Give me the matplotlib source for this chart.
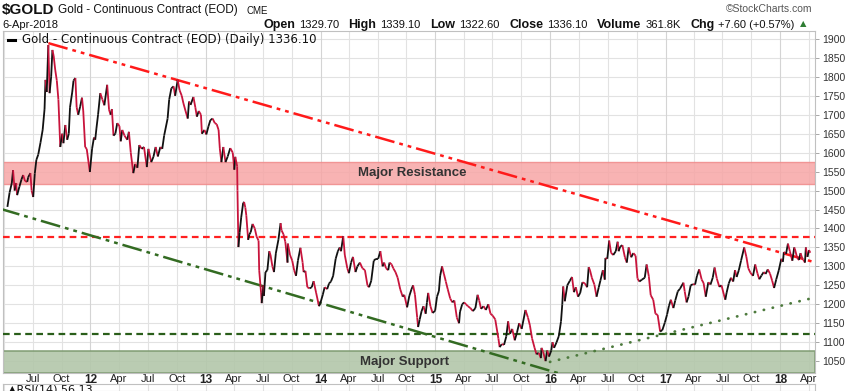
import numpy as np
import pandas as pd
import matplotlib
matplotlib.use("Agg")
import matplotlib.pyplot as plt
import matplotlib.dates as mdates
from matplotlib.collections import LineCollection

W, H = 847, 391

# daily close (approx.)
price_points = """
2011-04-12 1457,2011-04-19 1495,2011-04-26 1520,2011-04-30 1554,2011-05-05 1500,2011-05-10 1520,
2011-05-13 1488,2011-05-20 1510,2011-05-27 1530,2011-06-01 1541,2011-06-07 1525,2011-06-14 1523,
2011-06-17 1535,2011-06-24 1546,2011-06-28 1500,2011-07-03 1483,2011-07-08 1545,2011-07-13 1581,
2011-07-19 1595,2011-07-26 1626,2011-08-02 1660,2011-08-08 1715,2011-08-11 1792,2011-08-15 1760,
2011-08-20 1884,2011-08-24 1757,2011-08-29 1800,2011-09-02 1871,2011-09-06 1855,2011-09-11 1818,
2011-09-16 1790,2011-09-21 1740,2011-09-27 1615,2011-10-03 1650,2011-10-07 1625,2011-10-13 1673,
2011-10-19 1634,2011-10-24 1650,2011-10-28 1720,2011-11-04 1760,2011-11-08 1790,2011-11-14 1797,
2011-11-18 1720,2011-11-23 1700,2011-11-29 1721,2011-12-05 1745,2011-12-09 1710,2011-12-15 1615,
2011-12-20 1610,2011-12-30 1549,2012-01-06 1610,2012-01-12 1640,2012-01-16 1634,2012-01-20 1665,
2012-01-25 1700,2012-02-01 1757,2012-02-08 1740,2012-02-14 1725,2012-02-23 1779,2012-02-29 1713,
2012-03-05 1700,2012-03-09 1715,2012-03-14 1645,2012-03-20 1650,2012-03-26 1678,2012-04-02 1670,
2012-04-06 1630,2012-04-11 1660,2012-04-18 1645,2012-04-27 1634,2012-05-02 1655,2012-05-08 1600,
2012-05-16 1546,2012-05-22 1570,2012-05-29 1560,2012-06-04 1620,2012-06-12 1610,2012-06-19 1615,
2012-06-28 1562,2012-07-03 1610,2012-07-12 1575,2012-07-19 1589,2012-07-26 1615,2012-08-02 1590,
2012-08-10 1615,2012-08-16 1610,2012-08-22 1645,2012-09-02 1690,2012-09-07 1740,2012-09-14 1770,
2012-09-21 1775,2012-09-26 1750,2012-10-04 1792,2012-10-10 1765,2012-10-17 1750,2012-10-22 1731,
2012-10-29 1710,2012-11-05 1690,2012-11-09 1735,2012-11-14 1726,2012-11-23 1747,2012-11-29 1720,
2012-12-04 1695,2012-12-10 1710,2012-12-17 1700,2012-12-20 1650,2012-12-28 1660,2013-01-03 1648,
2013-01-10 1670,2013-01-16 1686,2013-01-23 1690,2013-01-30 1678,2013-02-05 1675,2013-02-11 1660,
2013-02-15 1610,2013-02-20 1575,2013-02-26 1615,2013-03-05 1575,2013-03-12 1590,2013-03-20 1612,
2013-03-28 1600,2013-04-02 1555,2013-04-05 1589,2013-04-11 1564,2013-04-12 1500,2013-04-15 1351,
2013-04-19 1390,2013-04-24 1430,2013-04-30 1467,2013-05-03 1470,2013-05-07 1455,2013-05-10 1435,
2013-05-16 1370,2013-05-20 1385,2013-05-24 1390,2013-05-30 1412,2013-06-06 1400,2013-06-12 1378,
2013-06-18 1368,2013-06-20 1290,2013-06-26 1230,2013-06-28 1203,2013-07-03 1250,2013-07-05 1222,
2013-07-10 1285,2013-07-16 1290,2013-07-22 1340,2013-07-26 1330,2013-08-01 1300,2013-08-06 1285,
2013-08-12 1335,2013-08-20 1370,2013-08-27 1414,2013-08-30 1395,2013-09-05 1385,2013-09-11 1365,
2013-09-18 1310,2013-09-19 1360,2013-09-26 1330,2013-10-03 1315,2013-10-09 1290,2013-10-15 1275,
2013-10-21 1315,2013-10-29 1349,2013-11-05 1310,2013-11-08 1285,2013-11-14 1288,2013-11-20 1245,
2013-11-27 1242,2013-12-04 1245,2013-12-10 1261,2013-12-18 1230,2013-12-27 1195,2013-12-31 1202,
2014-01-08 1225,2014-01-14 1245,2014-01-22 1240,2014-01-28 1255,2014-02-03 1260,2014-02-10 1275,
2014-02-18 1320,2014-02-25 1340,2014-03-03 1350,2014-03-07 1340,2014-03-14 1380,2014-03-19 1330,
2014-03-27 1295,2014-04-01 1282,2014-04-08 1310,2014-04-14 1325,2014-04-22 1285,2014-04-28 1300,
2014-05-06 1310,2014-05-14 1295,2014-05-22 1290,2014-05-30 1250,2014-06-04 1245,2014-06-11 1262,
2014-06-19 1315,2014-06-26 1320,2014-07-03 1320,2014-07-10 1340,2014-07-17 1300,2014-07-22 1310,
2014-07-28 1295,2014-08-04 1290,2014-08-08 1310,2014-08-15 1305,2014-08-20 1295,2014-08-27 1285,
2014-09-03 1270,2014-09-11 1240,2014-09-19 1220,2014-09-24 1225,2014-10-03 1192,2014-10-10 1222,
2014-10-17 1240,2014-10-22 1250,2014-10-28 1225,2014-11-04 1165,2014-11-07 1140,2014-11-12 1160,
2014-11-18 1182,2014-11-24 1195,2014-12-01 1175,2014-12-05 1205,2014-12-09 1230,2014-12-16 1195,
2014-12-23 1177,2014-12-31 1183,2015-01-06 1220,2015-01-12 1235,2015-01-16 1275,2015-01-22 1300,
2015-01-28 1280,2015-02-03 1260,2015-02-09 1240,2015-02-17 1215,2015-02-24 1205,2015-03-02 1210,
2015-03-10 1165,2015-03-17 1150,2015-03-20 1180,2015-03-27 1200,2015-04-02 1205,2015-04-08 1200,
2015-04-14 1195,2015-04-22 1190,2015-04-30 1182,2015-05-08 1190,2015-05-15 1225,2015-05-20 1210,
2015-05-26 1188,2015-06-03 1195,2015-06-10 1185,2015-06-18 1200,2015-06-25 1175,2015-07-02 1170,
2015-07-10 1160,2015-07-20 1110,2015-07-24 1087,2015-07-31 1095,2015-08-07 1093,2015-08-14 1115,
2015-08-20 1155,2015-08-26 1122,2015-09-02 1135,2015-09-10 1105,2015-09-17 1125,2015-09-24 1150,
2015-10-02 1135,2015-10-14 1185,2015-10-22 1165,2015-10-28 1145,2015-11-04 1110,2015-11-12 1085,
2015-11-18 1068,2015-11-25 1072,2015-12-02 1058,2015-12-04 1085,2015-12-09 1075,2015-12-17 1050,
2015-12-22 1078,2015-12-28 1062,2016-01-04 1078,2016-01-08 1100,2016-01-13 1085,2016-01-21 1100,
2016-01-28 1116,2016-02-04 1155,2016-02-08 1200,2016-02-11 1247,2016-02-16 1208,2016-02-24 1250,
2016-03-03 1262,2016-03-10 1272,2016-03-16 1232,2016-03-22 1245,2016-03-29 1220,2016-04-05 1230,
2016-04-12 1258,2016-04-20 1255,2016-04-27 1245,2016-05-02 1298,2016-05-06 1290,2016-05-12 1270,
2016-05-20 1252,2016-05-27 1220,2016-06-03 1245,2016-06-08 1262,2016-06-16 1290,2016-06-22 1265,
2016-06-24 1322,2016-06-30 1320,2016-07-06 1368,2016-07-12 1336,2016-07-19 1330,2016-07-27 1340,
2016-08-02 1365,2016-08-05 1340,2016-08-10 1352,2016-08-17 1356,2016-08-25 1324,2016-08-31 1310,
2016-09-06 1350,2016-09-14 1324,2016-09-21 1335,2016-09-28 1328,2016-10-04 1268,2016-10-10 1260,
2016-10-18 1265,2016-10-27 1270,2016-11-02 1305,2016-11-09 1274,2016-11-15 1224,2016-11-23 1212,
2016-11-30 1175,2016-12-07 1172,2016-12-15 1128,2016-12-22 1132,2016-12-30 1152,2017-01-06 1173,
2017-01-12 1196,2017-01-18 1212,2017-01-26 1190,2017-02-01 1210,2017-02-09 1234,2017-02-16 1241,
2017-02-27 1257,2017-03-03 1234,2017-03-09 1205,2017-03-15 1220,2017-03-22 1250,2017-03-29 1253,
2017-04-05 1252,2017-04-11 1275,2017-04-18 1292,2017-04-26 1265,2017-05-02 1256,2017-05-09 1220,
2017-05-17 1258,2017-05-24 1252,2017-05-31 1270,2017-06-06 1297,2017-06-13 1268,2017-06-21 1246,
2017-06-28 1250,2017-07-05 1227,2017-07-10 1212,2017-07-14 1230,2017-07-21 1255,2017-07-28 1270,
2017-08-04 1260,2017-08-10 1290,2017-08-15 1272,2017-08-22 1290,2017-08-29 1315,2017-09-08 1350,
2017-09-15 1325,2017-09-21 1295,2017-09-28 1283,2017-10-06 1275,2017-10-13 1305,2017-10-20 1282,
2017-10-26 1266,2017-11-02 1276,2017-11-09 1285,2017-11-15 1280,2017-11-22 1292,2017-11-29 1281,
2017-12-06 1262,2017-12-12 1243,2017-12-19 1266,2017-12-27 1290,2018-01-04 1320,2018-01-09 1312,
2018-01-12 1338,2018-01-19 1333,2018-01-25 1360,2018-01-31 1340,2018-02-08 1315,2018-02-14 1350,
2018-02-16 1346,2018-02-22 1327,2018-02-27 1318,2018-03-01 1317,2018-03-06 1335,2018-03-12 1320,
2018-03-15 1318,2018-03-20 1310,2018-03-23 1350,2018-03-28 1325,2018-04-02 1343,2018-04-06 1336
"""
pairs = [p.split() for p in price_points.replace("\n", "").split(",")]
price_dates = pd.to_datetime([d for d, v in pairs])
price_values = np.array([float(v) for d, v in pairs])

resistance_band = [1518, 1576]
support_band = [1020, 1077]
resistance_level = 1378
support_level = 1122

falling_top_dates = ["2011-08-20", "2018-04-15"]
falling_top_values = [1889, 1312]
falling_low_dates = ["2011-03-20", "2016-04-10"]
falling_low_values = [1452, 1000]
rising_low_dates = ["2015-12-31", "2018-04-21"]
rising_low_values = [1048, 1218]

y_ticks = list(range(1050, 1901, 50))
tick_dates = pd.date_range("2011-07-01", "2018-04-01", freq="QS")
tick_labels = [d.strftime("%y") if d.month == 1 else d.strftime("%b") for d in tick_dates]

plt.rcParams["font.family"] = ["Liberation Sans", "DejaVu Sans"]

fig = plt.figure(figsize=(W / 100, H / 100), dpi=100)
fig.patch.set_facecolor("white")


def fx(x):
    return x / W


def fy(y):
    return 1 - y / H


x0, x1 = 3, 815
ytop, ybot = 31, 373
ax = fig.add_axes([fx(x0), fy(ybot), (x1 - x0) / W, (ybot - ytop) / H])

xmin = mdates.date2num(pd.Timestamp("2011-03-29"))
xmax = mdates.date2num(pd.Timestamp("2018-04-21"))
ax.set_xlim(xmin, xmax)
ax.set_ylim(1018.7, 1921)

# grid
for v in range(1000, 1951, 50):
    ax.axhline(v, color="#e2e2e2", lw=0.8, zorder=0)
for d in pd.date_range("2011-04-01", "2018-04-01", freq="QS"):
    ax.axvline(mdates.date2num(d), color="#d4d4d4" if d.month == 1 else "#e2e2e2", lw=0.8, zorder=0)

# bands
ax.axhspan(*resistance_band, facecolor="#f7a6a6", edgecolor="#f08a8a", lw=1, alpha=0.85, zorder=1)
ax.axhspan(*support_band, facecolor="#b3c7aa", edgecolor="#7d9a70", lw=1.2, alpha=0.9, zorder=1)
ax.text(mdates.date2num(pd.Timestamp("2014-10-20")), sum(resistance_band) / 2, "Major Resistance",
        ha="center", va="center", fontsize=9.5, fontweight="bold", color="#333333", zorder=2)
ax.text(mdates.date2num(pd.Timestamp("2014-09-25")), sum(support_band) / 2, "Major Support",
        ha="center", va="center", fontsize=9.5, fontweight="bold", color="#333333", zorder=2)

# horizontal levels
ax.axhline(resistance_level, color="#ff2020", lw=1.6, ls=(0, (3, 2)), zorder=3)
ax.axhline(support_level, color="#2a5e1a", lw=1.6, ls=(0, (3, 2)), zorder=3)

# trend lines
ax.plot(pd.to_datetime(falling_top_dates), falling_top_values, color="#ff1a1a", lw=1.8,
        ls=(0, (8, 2, 1.5, 2, 1.5, 2)), zorder=4)
ax.plot(pd.to_datetime(falling_low_dates), falling_low_values, color="#336b22", lw=1.8,
        ls=(0, (8, 2, 1.5, 2, 1.5, 2)), zorder=4)
ax.plot(pd.to_datetime(rising_low_dates), rising_low_values, color="#4d7a3d", lw=2,
        ls=(0, (0.1, 3.2)), dash_capstyle="round", solid_capstyle="round", zorder=4)

# price line, black when rising, red when falling
xs = mdates.date2num(price_dates)
ys = price_values
segs = np.stack([np.column_stack([xs[:-1], ys[:-1]]), np.column_stack([xs[1:], ys[1:]])], axis=1)
cols = ["#111111" if b >= a else "#c8143c" for a, b in zip(ys[:-1], ys[1:])]
ax.add_collection(LineCollection(segs, colors=cols, linewidths=1.3, zorder=5))

ax.xaxis_date()
ax.set_xticks(mdates.date2num(tick_dates))
ax.set_xticklabels(tick_labels, fontsize=8, color="#222222")
for lab, d in zip(ax.get_xticklabels(), tick_dates):
    if d.month == 1:
        lab.set_fontweight("bold")
        lab.set_fontsize(8.5)
ax.tick_params(axis="x", length=0, pad=1)

ax.yaxis.tick_right()
ax.set_yticks(y_ticks)
ax.set_yticklabels([str(v) for v in y_ticks], fontsize=7.5, color="#333333")
ax.tick_params(axis="y", length=3, width=0.6, color="#999999", pad=2)

for s in ax.spines.values():
    s.set_color("#c0c0c0")
    s.set_linewidth(0.8)

# legend inside the panel
ax.plot([0.006, 0.015], [0.975, 0.975], transform=ax.transAxes, color="black", lw=2.2, zorder=6)
ax.text(0.024, 0.975, "Gold - Continuous Contract (EOD) (Daily) 1336.10", transform=ax.transAxes,
        fontsize=8.5, color="#111111", va="center", ha="left", family="DejaVu Sans", zorder=6)

# next panel (cut off)
ax2 = fig.add_axes([fx(x0), 0, (x1 - x0) / W, (H - 384) / H])
ax2.set_xlim(xmin, xmax)
ax2.set_ylim(0, 1)
for d in pd.date_range("2011-04-01", "2018-04-01", freq="QS"):
    ax2.axvline(mdates.date2num(d), color="#e2e2e2", lw=0.8, zorder=0)
ax2.set_xticks([])
ax2.set_yticks([])
for s in ax2.spines.values():
    s.set_color("#c0c0c0")
    s.set_linewidth(0.8)
fig.text(fx(8), fy(385), "\u25b2RSI(14) 56.13", fontsize=8, va="top", ha="left", color="#111111",
         family="DejaVu Sans")

# header
fig.text(fx(2), fy(10), "$GOLD", fontsize=11, fontweight="bold", va="center", ha="left", color="#111111")
fig.text(fx(58), fy(10), "Gold - Continuous Contract (EOD)", fontsize=8.5, va="center", ha="left",
         color="#111111")
fig.text(fx(246), fy(11), "CME", fontsize=7, va="center", ha="left", color="#111111")
fig.text(fx(2), fy(25), "6-Apr-2018", fontsize=8, va="center", ha="left", color="#111111")
fig.text(fx(812), fy(9), "\u00a9StockCharts.com", fontsize=7.5, va="center", ha="right", color="#555555")

header = [("Open", "1329.70"), ("High", "1339.10"), ("Low", "1322.60"), ("Close", "1336.10"),
          ("Volume", "361.8K"), ("Chg", "+7.60 (+0.57%)")]
r = fig.canvas.get_renderer()
xp = 263
for lab, val in header:
    t = fig.text(fx(xp), fy(25), lab, fontsize=9, fontweight="bold", va="center", ha="left", color="#111111")
    xp += t.get_window_extent(renderer=r).width + 4
    t = fig.text(fx(xp), fy(25), val, fontsize=8, va="center", ha="left", color="#111111")
    xp += t.get_window_extent(renderer=r).width + 9.5
fig.text(fx(xp - 4), fy(24), "\u25b2", fontsize=6, va="center", ha="left", color="#2e7d32",
         family="DejaVu Sans")

fig.savefig("out.png", dpi=100, facecolor="white")
